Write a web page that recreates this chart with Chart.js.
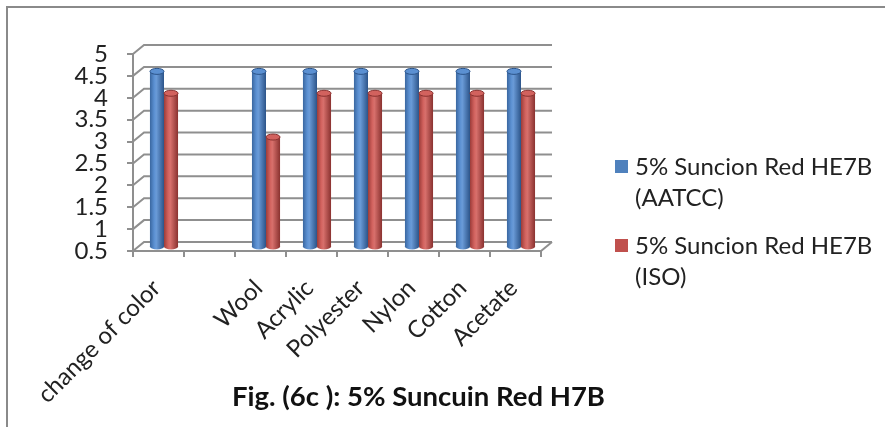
<!DOCTYPE html>
<html lang="en">
<head>
  <meta charset="UTF-8">
  <title>Fig. (6c): 5% Suncuin Red H7B</title>
  <script src="https://cdn.jsdelivr.net/npm/chart.js"></script>
  <style>
    body { margin: 0; background: #fff; font-family: Lato, sans-serif; }
    #wrap { position: relative; width: 885px; height: 427px; overflow: hidden; }
    #frame { position: absolute; left: 6px; top: 6px; width: 1000px; height: 600px;
             border-top: 2px solid #8a8a8a; border-left: 2px solid #8a8a8a; }
    #box { position: absolute; left: 0; top: 0; width: 885px; height: 427px; }
    .legend { position: absolute; left: 615px; font-size: 24px; color: #222; line-height: 31px; }
    .legend .sw { position: absolute; left: 0; width: 13px; height: 13px; }
    .legend .tx { position: absolute; left: 20px; white-space: nowrap; }
    #title { position: absolute; left: 0; width: 837px; top: 379px; text-align: center;
             font-weight: bold; font-size: 27.5px; color: #111; }
  </style>
</head>
<body>
  <div id="wrap">
    <div id="frame"></div>
    <div id="box"><canvas id="chart"></canvas></div>
    <div class="legend" style="top:150px;">
      <div class="sw" style="top:10px;background:#4f81bd;"></div>
      <div class="tx">5% Suncion Red HE7B<br>(AATCC)</div>
    </div>
    <div class="legend" style="top:229px;">
      <div class="sw" style="top:10px;background:#c0504d;"></div>
      <div class="tx">5% Suncion Red HE7B<br>(ISO)</div>
    </div>
    <div id="title">Fig. (6c ): 5% Suncuin Red H7B</div>
  </div>

  <script>
    const categories = ['change of color', '', 'Wool', 'Acrylic', 'Polyester', 'Nylon', 'Cotton', 'Acetate'];
    const aatcc = [4.5, null, 4.5, 4.5, 4.5, 4.5, 4.5, 4.5];
    const iso = [4, null, 3, 4, 4, 4, 4, 4];
    const yTickLabels = ['0.5', '1', '1.5', '2', '2.5', '3', '3.5', '4', '4.5', '5'];

    // depth offset of the back wall, bars sit half way
    const DX = 11, DY = -9;
    const lineColor = '#8f8f8f';

    const wallPlugin = {
      id: 'wall',
      beforeDatasetsDraw(chart) {
        const ctx = chart.ctx;
        const a = chart.chartArea;
        const y = chart.scales.y;
        ctx.save();
        ctx.strokeStyle = lineColor;
        ctx.lineWidth = 2;
        yTickLabels.forEach(t => {
          const py = y.getPixelForValue(parseFloat(t));
          ctx.beginPath();
          ctx.moveTo(a.left, py);
          ctx.lineTo(a.left + DX, py + DY);
          ctx.lineTo(a.right + DX, py + DY);
          ctx.stroke();
        });
        ctx.beginPath();
        ctx.moveTo(a.right, a.bottom);
        ctx.lineTo(a.right + DX, a.bottom + DY);
        ctx.stroke();
        ctx.restore();

        ctx.save();
        ctx.translate(DX / 2, DY / 2);
      },
      afterDatasetsDraw(chart) {
        const ctx = chart.ctx;
        const floor = chart.scales.y.getPixelForValue(chart.scales.y.min);
        const shades = [
          ['#3a67a0', '#5b90d2', '#6a9bd8', '#2c5489'],
          ['#9c3c39', '#d2625e', '#d8706c', '#8a3230']
        ];
        chart.data.datasets.forEach((ds, i) => {
          const s = shades[i];
          chart.getDatasetMeta(i).data.forEach((el, j) => {
            if (ds.data[j] == null) return;
            const w = el.width, l = el.x - w / 2, top = el.y, base = Math.min(el.base, floor);
            const ry = 3;
            const g = ctx.createLinearGradient(l, 0, l + w, 0);
            g.addColorStop(0, s[0]);
            g.addColorStop(0.3, s[1]);
            g.addColorStop(0.45, s[2]);
            g.addColorStop(1, s[3]);
            ctx.fillStyle = g;
            ctx.beginPath();
            ctx.ellipse(el.x, base, w / 2, ry, 0, 0, Math.PI * 2);
            ctx.fill();
            ctx.fillRect(l, top, w, base - top);
            ctx.beginPath();
            ctx.ellipse(el.x, top, w / 2, ry, 0, 0, Math.PI * 2);
            ctx.fillStyle = s[1];
            ctx.fill();
            ctx.strokeStyle = s[3];
            ctx.lineWidth = 1;
            ctx.stroke();
          });
        });
        ctx.restore();
      }
    };

    new Chart(document.getElementById('chart'), {
      type: 'bar',
      data: {
        labels: categories,
        datasets: [
          { label: '5% Suncion Red HE7B (AATCC)', data: aatcc, backgroundColor: '#4f81bd' },
          { label: '5% Suncion Red HE7B (ISO)', data: iso, backgroundColor: '#c0504d' }
        ]
      },
      options: {
        responsive: true,
        maintainAspectRatio: false,
        animation: false,
        layout: { padding: { left: 0, top: 54, right: 344, bottom: 0 } },
        datasets: { bar: { barPercentage: 1, categoryPercentage: 0.55 } },
        plugins: { legend: { display: false }, tooltip: { enabled: false } },
        scales: {
          x: {
            afterFit(s) { s.height = 176; },
            grid: { drawOnChartArea: false, drawTicks: true, tickLength: 6, color: lineColor, lineWidth: 2, offset: true },
            border: { color: lineColor, width: 2 },
            ticks: {
              minRotation: 45, maxRotation: 45, autoSkip: false, padding: 17, labelOffset: -2,
              color: '#222', font: { family: 'Lato', size: 24 }
            }
          },
          y: {
            min: 0.5, max: 5,
            afterFit(s) { s.width = 133; },
            grid: { drawOnChartArea: false, drawTicks: true, tickLength: 6, color: lineColor, lineWidth: 2 },
            border: { color: lineColor, width: 2 },
            ticks: {
              stepSize: 0.5, padding: 19, autoSkip: false, color: '#222',
              font: { family: 'Lato', size: 24 },
              callback: (v, i) => yTickLabels[i]
            }
          }
        }
      },
      plugins: [wallPlugin]
    });
  </script>
</body>
</html>
